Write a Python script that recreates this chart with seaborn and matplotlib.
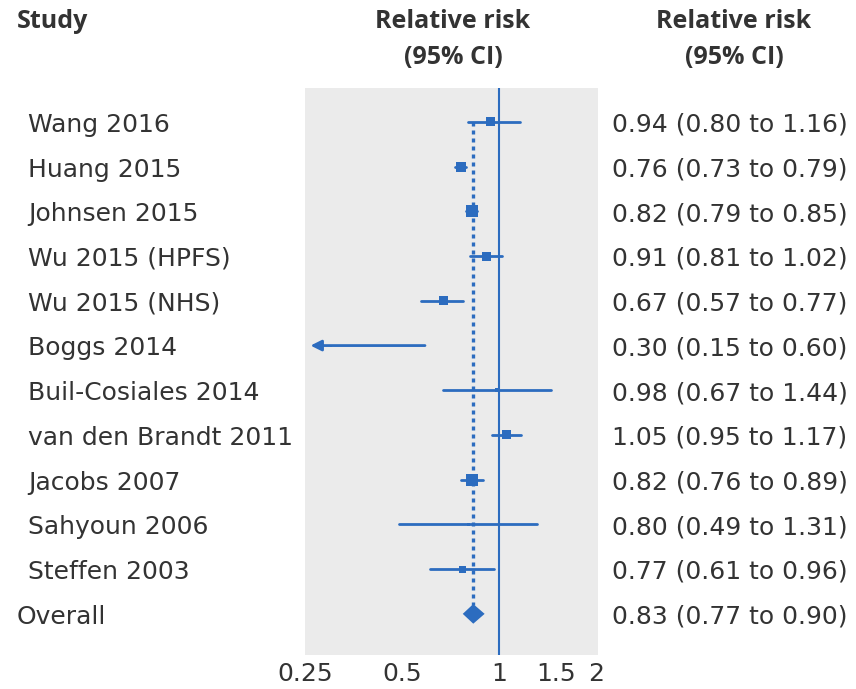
import matplotlib
matplotlib.use('Agg')
import matplotlib.pyplot as plt
import matplotlib.transforms as mtransforms
import seaborn as sns
import pandas as pd
import numpy as np

# study data
studies = ['Wang 2016', 'Huang 2015', 'Johnsen 2015', 'Wu 2015 (HPFS)', 'Wu 2015 (NHS)',
           'Boggs 2014', 'Buil-Cosiales 2014', 'van den Brandt 2011', 'Jacobs 2007',
           'Sahyoun 2006', 'Steffen 2003']
rr = [0.94, 0.76, 0.82, 0.91, 0.67, 0.30, 0.98, 1.05, 0.82, 0.80, 0.77]
lower = [0.80, 0.73, 0.79, 0.81, 0.57, 0.15, 0.67, 0.95, 0.76, 0.49, 0.61]
upper = [1.16, 0.79, 0.85, 1.02, 0.77, 0.60, 1.44, 1.17, 0.89, 1.31, 0.96]
box_px = [9, 10, 12, 9, 9, 2, 4, 9, 12, 3, 7]   # weight box side, pixels
overall = [0.83, 0.77, 0.90]
tick_vals = [0.25, 0.5, 0.75, 1, 1.5, 2]
tick_labels = ['0.25', '0.5', '', '1', '1.5', '2']

blue = '#2c6cbf'
grey = '#ebebeb'
txt = '#333333'

sns.set_style('white')
plt.rcParams['font.family'] = ['DejaVu Sans']
fs = 18

df = pd.DataFrame({'study': studies, 'rr': rr, 'lo': lower, 'hi': upper, 'box': box_px})
df['row'] = np.arange(len(df))
n = len(df)

fig = plt.figure(figsize=(8.56, 6.89), dpi=100)
ax = fig.add_axes([305 / 856, 1 - 655 / 689, 293 / 856, 567 / 689])
ax.set_facecolor(grey)
ax.set_xscale('log')
ax.set_xlim(0.25, 2.02)
ax.set_ylim(n + 0.92, -0.76)

# reference line at 1 and dotted line at overall estimate
ax.axvline(1, color=blue, lw=1.5, zorder=2)
ax.plot([overall[0], overall[0]], [0, n - 0.2], color=blue, lw=2.4,
        linestyle=(0, (1.2, 1.2)), zorder=2)

# confidence intervals
xmin = ax.get_xlim()[0]
for _, r in df.iterrows():
    if r['lo'] < xmin:
        ax.annotate('', xy=(xmin * 1.02, r['row']), xytext=(r['hi'], r['row']),
                    arrowprops=dict(arrowstyle='-|>', color=blue, lw=2, mutation_scale=16),
                    zorder=3)
    else:
        ax.plot([r['lo'], r['hi']], [r['row'], r['row']], color=blue, lw=2, zorder=3)

# weighted boxes
sns.scatterplot(data=df, x='rr', y='row', marker='s', color=blue,
                s=(df['box'] * 0.72) ** 2, linewidth=0, legend=False, ax=ax, zorder=4)

# overall diamond
dh = 0.22
ax.fill([overall[1], overall[0], overall[2], overall[0]],
        [n, n - dh, n, n + dh], color=blue, lw=0, zorder=4)

ax.set_xticks(tick_vals)
ax.set_xticklabels(tick_labels, fontsize=fs, color=txt)
ax.xaxis.set_minor_locator(matplotlib.ticker.NullLocator())
ax.tick_params(axis='x', direction='in', length=8, width=1.5, color='white', pad=5)
ax.set_yticks([])
ax.set_xlabel('')
ax.set_ylabel('')
for s in ax.spines.values():
    s.set_visible(False)

# text columns
tr = mtransforms.blended_transform_factory(fig.transFigure, ax.transData)
base = 0.22
for _, r in df.iterrows():
    ax.text(28 / 856, r['row'] + base, r['study'], transform=tr, ha='left', va='baseline',
            fontsize=fs, color=txt)
    ax.text(612 / 856, r['row'] + base, f"{r['rr']:.2f} ({r['lo']:.2f} to {r['hi']:.2f})",
            transform=tr, ha='left', va='baseline', fontsize=fs, color=txt)
ax.text(17 / 856, n + base, 'Overall', transform=tr, ha='left', va='baseline', fontsize=fs,
        color=txt)
ax.text(612 / 856, n + base, f"{overall[0]:.2f} ({overall[1]:.2f} to {overall[2]:.2f})",
        transform=tr, ha='left', va='baseline', fontsize=fs, color=txt)

# headers
hfont = ['Open Sans', 'DejaVu Sans']
fig.text(17 / 856, 1 - 22 / 689, 'Study', ha='left', va='center', fontsize=18,
         fontweight='bold', color=txt, family=hfont)
for xc in [453, 734]:
    fig.text(xc / 856, 1 - 22 / 689, 'Relative risk', ha='center', va='center',
             fontsize=18, fontweight='bold', color=txt, family=hfont)
    fig.text(xc / 856, 1 - 58 / 689, '(95% CI)', ha='center', va='center',
             fontsize=18, fontweight='bold', color=txt, family=hfont)

fig.savefig('out.png', dpi=100, facecolor='white')
